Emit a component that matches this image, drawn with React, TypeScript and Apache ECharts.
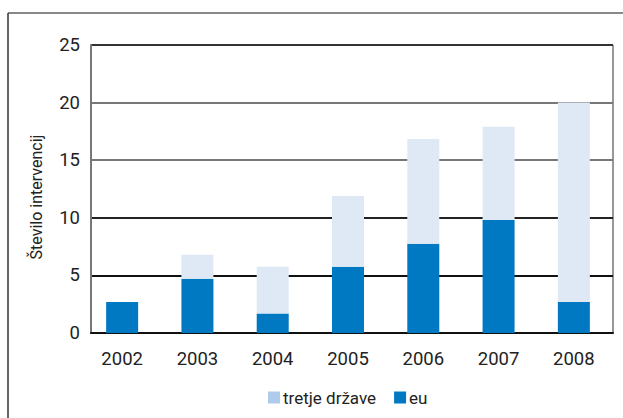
import React, { useEffect, useRef } from "react";
import * as echarts from "echarts";

const years = ["2002", "2003", "2004", "2005", "2006", "2007", "2008"];
const euValues = [2.7, 4.7, 1.7, 5.75, 7.75, 9.8, 2.7];
const thirdCountryValues = [0, 2.1, 4.05, 6.15, 9.1, 8.1, 17.3];
const yTicks = [0, 5, 10, 15, 20, 25];
const seriesNames = ["tretje države", "eu"];

const FONT = "Roboto, 'Noto Sans', sans-serif";

export default function App() {
  const ref = useRef<HTMLDivElement>(null);
  useEffect(() => {
    if (!ref.current) return;
    const chart = echarts.init(ref.current, null, { renderer: "svg" });
    chart.setOption({
      animation: false,
      backgroundColor: "#ffffff",
      textStyle: { fontFamily: FONT },
      grid: [
        { left: 91, top: 45, width: 522, height: 288, show: true, borderColor: "#333", borderWidth: 1, backgroundColor: "transparent" },
        { left: 84.5, top: 45, width: 527, height: 288 },
      ],
      xAxis: [
        {
          gridIndex: 0,
          type: "category",
          data: years,
          axisLine: { show: true, lineStyle: { color: "#111", width: 2 } },
          axisTick: { show: false },
          axisLabel: { show: false },
        },
        {
          gridIndex: 1,
          type: "category",
          data: years,
          axisLine: { show: false },
          axisTick: { show: false },
          axisLabel: { color: "#222", fontSize: 18.5, fontFamily: FONT, margin: 16 },
        },
      ],
      yAxis: [
        {
          gridIndex: 0,
          type: "value",
          min: yTicks[0],
          max: yTicks[yTicks.length - 1],
          interval: 5,
          axisLine: { show: true, lineStyle: { color: "#777", width: 2 } },
          axisTick: { show: false },
          axisLabel: { color: "#222", fontSize: 18.5, fontFamily: FONT, margin: 11 },
          splitLine: {
            show: true,
            lineStyle: { color: ["#111", "#111", "#222", "#777", "#777", "#333"], width: 2 },
          },
        },
        {
          gridIndex: 1,
          type: "value",
          min: 0,
          max: 25,
          show: false,
          splitLine: { show: false },
        },
      ],
      legend: {
        left: 263,
        top: 384,
        itemWidth: 12,
        itemGap: 18,
        itemHeight: 12,
        icon: "rect",
        textStyle: { color: "#222", fontSize: 17, fontFamily: FONT, padding: [0, 0, 0, -2] },
        data: [
          { name: seriesNames[0], itemStyle: { color: "#aecbeb" } },
          { name: seriesNames[1], itemStyle: { color: "#0079c2" } },
        ],
      },
      graphic: [
        { type: "line", shape: { x1: 8, y1: 13, x2: 623, y2: 13 }, style: { stroke: "#888", lineWidth: 2 } },
        { type: "line", shape: { x1: 8, y1: 13, x2: 8, y2: 418 }, style: { stroke: "#333", lineWidth: 1.5 } },
        {
          type: "text",
          x: 36,
          y: 197,
          rotation: Math.PI / 2,
          style: {
            text: "Število intervencij",
            fontSize: 16,
            fontFamily: FONT,
            fill: "#222",
            align: "center",
            verticalAlign: "middle",
          },
        },
      ],
      series: [
        {
          name: seriesNames[1],
          type: "bar",
          stack: "total",
          xAxisIndex: 1,
          yAxisIndex: 1,
          barWidth: 32,
          itemStyle: { color: "#0079c2" },
          data: euValues,
        },
        {
          name: seriesNames[0],
          type: "bar",
          stack: "total",
          xAxisIndex: 1,
          yAxisIndex: 1,
          barWidth: 32,
          itemStyle: { color: "#dfe9f5" },
          data: thirdCountryValues,
        },
      ],
    });
    return () => chart.dispose();
  }, []);
  return (
    <div
      ref={ref}
      style={{ position: "fixed", left: 0, top: 0, width: 623, height: 418, background: "#fff" }}
    />
  );
}
